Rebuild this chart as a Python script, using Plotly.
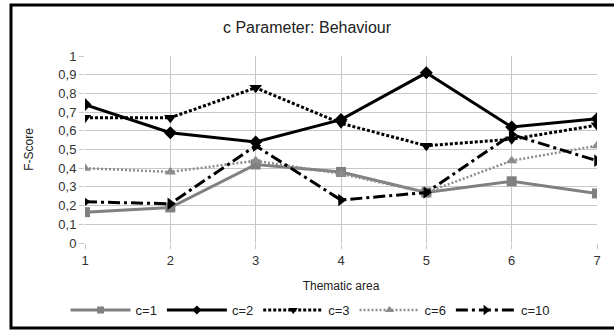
import plotly.graph_objects as go

areas = [1, 2, 3, 4, 5, 6, 7]
c1 = [0.165, 0.19, 0.42, 0.38, 0.27, 0.33, 0.265]
c2 = [0.74, 0.59, 0.54, 0.66, 0.91, 0.62, 0.665]
c3 = [0.67, 0.67, 0.83, 0.64, 0.52, 0.555, 0.63]
c6 = [0.40, 0.38, 0.44, 0.37, 0.27, 0.44, 0.52]
c10 = [0.22, 0.21, 0.52, 0.23, 0.27, 0.58, 0.44]

series_names = ["c=1", "c=2", "c=3", "c=6", "c=10"]
ytick_vals = [0, 0.1, 0.2, 0.3, 0.4, 0.5, 0.6, 0.7, 0.8, 0.9, 1]
ytick_text = ["0", "0,1", "0,2", "0,3", "0,4", "0,5", "0,6", "0,7", "0,8", "0,9", "1"]
xtick_vals = [1, 2, 3, 4, 5, 6, 7]

FONT = "Liberation Sans, Arial, sans-serif"

styles = [
    dict(color="#808080", width=3, dash="solid", symbol="square", size=10, lsize=7),
    dict(color="#000000", width=3, dash="solid", symbol="diamond", size=10, lsize=7),
    dict(color="#000000", width=3, dash="3px,2px", symbol="triangle-down", size=11, lsize=8),
    dict(color="#8c8c8c", width=2.5, dash="2px,2px", symbol="triangle-up", size=10, lsize=8),
    dict(color="#000000", width=3, dash="12px,4px,3px,4px", symbol="triangle-right", size=11, lsize=9),
]

fig = go.Figure()
for name, ys, st in zip(series_names, [c1, c2, c3, c6, c10], styles):
    fig.add_trace(go.Scatter(
        x=areas, y=ys, name=name, mode="lines+markers", showlegend=False,
        legendgroup=name,
        line=dict(color=st["color"], width=st["width"], dash=st["dash"]),
        marker=dict(symbol=st["symbol"], size=st["size"], color=st["color"],
                    line=dict(width=0)),
    ))
# legend entries with smaller symbols (no data drawn)
for name, st in zip(series_names, styles):
    fig.add_trace(go.Scatter(
        x=[None], y=[None], name=name, mode="lines+markers", showlegend=True,
        legendgroup=name,
        line=dict(color=st["color"], width=st["width"], dash=st["dash"]),
        marker=dict(symbol=st["symbol"], size=st["lsize"], color=st["color"],
                    line=dict(width=0)),
    ))

L, R, T, B = 85, 17, 56, 88
W, H = 614, 331
pw = W - L - R
ph = H - T - B

def px2x(px):
    return (px - L) / pw

def py2y(py):
    return (H - B - py) / ph

xl, xr = px2x(11), px2x(640)
yt, yb = py2y(5), py2y(328)
frame_path = f"M{xr},{yt} L{xl},{yt} L{xl},{yb} L{xr},{yb}"

fig.update_layout(
    width=W, height=H,
    margin=dict(l=L, r=R, t=T, b=B, autoexpand=False),
    paper_bgcolor="white", plot_bgcolor="white",
    font=dict(family=FONT, size=13, color="#333333"),
    title=dict(text="c Parameter: Behaviour", x=0.5, xref="container", xanchor="center",
               y=1 - 27 / H, yref="container", yanchor="middle",
               font=dict(size=16, color="#222222")),
    showlegend=True,
    legend=dict(orientation="h", xref="container", x=0.505, xanchor="center",
                yref="container", y=1 - 310 / H, yanchor="middle",
                itemwidth=60, font=dict(size=13, color="#222222"),
                tracegroupgap=0, bgcolor="rgba(0,0,0,0)"),
    xaxis=dict(range=[1, 7], tickvals=xtick_vals, showgrid=True, gridcolor="#c8c8c8",
               gridwidth=1, zeroline=False, showline=False, ticks="outside", ticklen=5,
               tickcolor="#c8c8c8", tickfont=dict(size=13, color="#333333"),
               title=dict(text="Thematic area", standoff=15, font=dict(size=12, color="#222222"))),
    yaxis=dict(range=[0, 1], tickvals=ytick_vals, ticktext=ytick_text, showgrid=True,
               gridcolor="#c8c8c8", gridwidth=1, zeroline=False, showline=False,
               ticks="outside", ticklen=5, tickcolor="#c8c8c8",
               tickfont=dict(size=13, color="#333333"),
               title=dict(text="F-Score", standoff=22, font=dict(size=12, color="#222222"))),
    shapes=[
        dict(type="path", xref="paper", yref="paper", path=frame_path,
             line=dict(color="black", width=3), fillcolor="rgba(0,0,0,0)", layer="above"),
    ],
)

fig.write_html("out.html")
